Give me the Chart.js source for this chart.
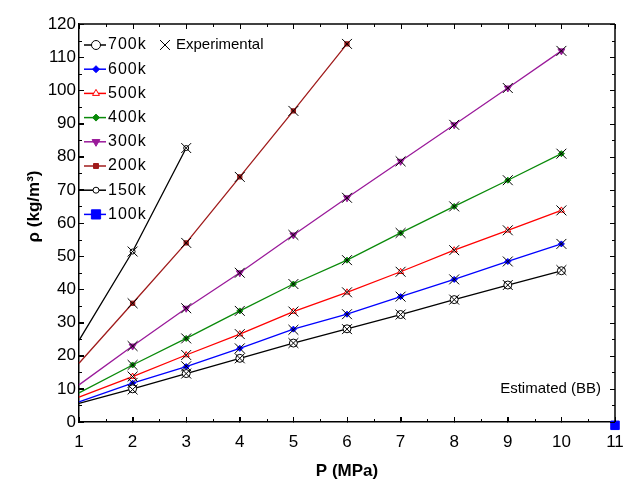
<!DOCTYPE html>
<html>
<head>
<meta charset="utf-8">
<title>Density vs pressure</title>
<script src="https://cdn.jsdelivr.net/npm/chart.js@4/dist/chart.umd.min.js"></script>
<style>
  html, body { margin: 0; padding: 0; background: #fff; }
  canvas { position: absolute; left: 0; top: 0; }
  #frame { pointer-events: none; }
</style>
</head>
<body>
<canvas id="densityChart" width="623" height="480"></canvas>
<canvas id="frame" width="623" height="480"></canvas>
<script>
// Valores
var xMin = 1, xMax = 11, yMin = 0, yMax = 120;
var xLabelStep = 1, yLabelStep = 10;

var pressure = [1, 2, 3, 4, 5, 6, 7, 8, 9, 10];
var temperatures = ['700k', '600k', '500k', '400k', '300k', '200k', '150k', '100k'];

// Estimated (BB), desde P = 1
var est700 = [5.6, 10.0, 14.6, 19.2, 23.8, 28.1, 32.4, 36.9, 41.3, 45.6];
var est600 = [6.1, 11.7, 16.7, 22.2, 28.0, 32.5, 37.8, 43.0, 48.4, 53.7];
var est500 = [7.5, 13.7, 20.2, 26.5, 33.3, 39.1, 45.3, 51.8, 57.8, 63.8];
var est400 = [8.8, 17.2, 25.2, 33.5, 41.6, 48.8, 57.0, 65.0, 72.9, 80.9];
var est300 = [11.2, 22.9, 34.3, 45.0, 56.4, 67.6, 78.6, 89.6, 100.7, 111.9];
var est200 = [17.7, 35.8, 54.0, 73.9, 93.8, 114.0];
var est150 = [24.6, 51.4, 82.6];
var p100 = [11];
var est100 = [-1];

// Experimental, desde P = 2
var exp700 = [9.8, 14.6, 19.2, 23.8, 28.0, 32.4, 36.9, 41.3, 45.8];
var exp600 = [11.8, 16.8, 22.2, 27.8, 32.5, 37.8, 43.0, 48.4, 53.7];
var exp500 = [13.7, 20.2, 26.5, 33.3, 39.1, 45.3, 51.8, 57.8, 63.8];
var exp400 = [17.2, 25.2, 33.5, 41.6, 48.8, 57.0, 65.0, 72.9, 80.9];
var exp300 = [22.9, 34.3, 45.0, 56.4, 67.6, 78.6, 89.6, 100.7, 111.9];
var exp200 = [35.8, 54.0, 73.9, 93.8, 114.0];
var exp150 = [51.4, 82.6];

var FONT = '"Liberation Sans", Arial, sans-serif';
Chart.defaults.font.family = FONT;
Chart.defaults.color = '#000';

function toPoints(xs, ys) {
    return ys.map(function(v, i) { return { x: xs[i], y: v }; });
}

// Estilo de cada curva
var curveStyle = {
    '700k': { color: '#000000', shape: 'circle', r: 4, fill: '#ffffff' },
    '600k': { color: '#0000ff', shape: 'rectRot', r: 3, fill: '#0000ff' },
    '500k': { color: '#ff0000', shape: 'triangle', r: 3.5, fill: '#ffffff' },
    '400k': { color: '#0a8a0a', shape: 'rectRot', r: 3, fill: '#0a8a0a' },
    '300k': { color: '#9a1a9a', shape: 'triangle', r: 4, fill: '#9a1a9a', rot: 180 },
    '200k': { color: '#a01c1c', shape: 'rect', r: 3, fill: '#a01c1c' },
    '150k': { color: '#000000', shape: 'circle', r: 2.5, fill: '#ffffff' },
    '100k': { color: '#0000ff', shape: 'rect', r: 6, fill: '#0000ff' }
};

var estimated = {
    '700k': toPoints(pressure, est700),
    '600k': toPoints(pressure, est600),
    '500k': toPoints(pressure, est500),
    '400k': toPoints(pressure, est400),
    '300k': toPoints(pressure, est300),
    '200k': toPoints(pressure, est200),
    '150k': toPoints(pressure, est150),
    '100k': toPoints(p100, est100)
};
var expPressure = pressure.slice(1);
var experimental = [exp700, exp600, exp500, exp400, exp300, exp200, exp150];

var datasets = [];
temperatures.forEach(function(t) {
    var s = curveStyle[t];
    var pts = estimated[t];
    datasets.push({
        label: t,
        data: pts,
        borderColor: s.color,
        backgroundColor: s.fill,
        borderWidth: 1.3,
        pointStyle: s.shape,
        pointRotation: s.rot || 0,
        // sin marcador en P = 1
        pointRadius: pts.map(function(p, i) { return (i === 0 && pts.length > 1) ? 0 : s.r; }),
        pointBorderColor: s.color,
        pointBackgroundColor: s.fill,
        pointBorderWidth: 1,
        showLine: pts.length > 1,
        tension: 0,
        clip: t === '100k' ? false : 2,
        order: 2
    });
});
experimental.forEach(function(vals) {
    datasets.push({
        label: 'Experimental',
        data: toPoints(expPressure, vals),
        showLine: false,
        pointStyle: 'crossRot',
        pointRadius: 7,
        pointBorderColor: '#000',
        pointBorderWidth: 1,
        order: 1
    });
});

// Leyenda y nota dentro del area del grafico
var insideText = {
    id: 'insideText',
    afterDraw: function(chart) {
        var ctx = chart.ctx;
        var area = chart.chartArea;
        var h = Chart.helpers;
        ctx.save();
        ctx.textBaseline = 'middle';
        ctx.textAlign = 'left';
        temperatures.forEach(function(t, i) {
            var s = curveStyle[t];
            var y = area.top + 21 + i * 24.2;
            ctx.strokeStyle = s.color;
            ctx.lineWidth = 1.5;
            ctx.beginPath();
            ctx.moveTo(area.left + 5, y);
            ctx.lineTo(area.left + 27, y);
            ctx.stroke();
            ctx.fillStyle = s.fill;
            ctx.lineWidth = 1;
            if (h && h.drawPoint) {
                h.drawPoint(ctx, { pointStyle: s.shape, rotation: s.rot || 0, radius: s.r + 0.5, borderWidth: 1 }, area.left + 17, y);
            }
            ctx.fillStyle = '#000';
            ctx.font = '16px ' + FONT;
            ctx.letterSpacing = '1px';
            ctx.fillText(t, area.left + 29, y);
            ctx.letterSpacing = '0px';
        });
        var ey = area.top + 21;
        ctx.strokeStyle = '#000';
        ctx.lineWidth = 1;
        if (h && h.drawPoint) {
            h.drawPoint(ctx, { pointStyle: 'crossRot', rotation: 0, radius: 7, borderWidth: 1 }, area.left + 86, ey);
        }
        ctx.fillStyle = '#000';
        ctx.font = '15px ' + FONT;
        ctx.fillText('Experimental', area.left + 97, ey);
        ctx.textAlign = 'right';
        ctx.fillText('Estimated (BB)', area.right - 14, area.bottom - 33);
        ctx.restore();
    }
};

function mainAxis(position, min, max, step, size, ticks, title) {
    return {
        type: 'linear',
        position: position,
        min: min,
        max: max,
        ticks: Object.assign({ stepSize: step, autoSkip: false, maxRotation: 0, color: '#000', font: { size: 17 } }, ticks),
        grid: { drawOnChartArea: false, drawTicks: true, tickLength: -5, tickColor: '#000' },
        border: { display: true, color: '#000', width: 1.5 },
        title: title,
        afterFit: function(scale) {
            if (scale.isHorizontal()) scale.height = size;
            else scale.width = size;
            scale.paddingLeft = 0;
            scale.paddingRight = 0;
        }
    };
}

var chart = new Chart(document.getElementById('densityChart'), {
    type: 'line',
    data: { datasets: datasets },
    options: {
        responsive: false,
        animation: false,
        events: [],
        layout: { padding: { top: 24, right: 6, left: 0, bottom: 0 } },
        plugins: { legend: { display: false }, tooltip: { enabled: false } },
        scales: {
            x: mainAxis('bottom', xMin, xMax, xLabelStep, 58, { padding: 15 },
                { display: true, text: 'P (MPa)', font: { size: 17, weight: 'bold', lineHeight: 1 }, padding: { top: 0, bottom: 0 }, color: '#000' }),
            y: mainAxis('left', yMin, yMax, yLabelStep, 79, { padding: 8 },
                { display: true, text: '       ρ (kg/m³)', font: { size: 17, weight: 'bold', lineHeight: 1 }, padding: { top: 26, bottom: 0 }, color: '#000' })
        }
    },
    plugins: [insideText]
});

// Marco y marcas hacia dentro en un lienzo superpuesto, con las posiciones de las escalas
function drawFrame() {
    var cv = document.getElementById('frame');
    var ctx = cv.getContext('2d');
    var a = chart.chartArea;
    var xs = chart.scales.x, ys = chart.scales.y;
    function seg(x1, y1, x2, y2) {
        ctx.beginPath();
        ctx.moveTo(x1, y1);
        ctx.lineTo(x2, y2);
        ctx.stroke();
    }
    ctx.clearRect(0, 0, cv.width, cv.height);
    ctx.strokeStyle = '#000';
    ctx.lineWidth = 1;
    xs.ticks.forEach(function(t, i) {
        var px = Math.round(xs.getPixelForValue(t.value)) + 0.5;
        seg(px, a.bottom, px, a.bottom - 5);
        seg(px, a.top, px, a.top + 5);
        if (i < xs.ticks.length - 1) {
            var mx = Math.round((xs.getPixelForValue(t.value) + xs.getPixelForValue(xs.ticks[i + 1].value)) / 2) + 0.5;
            seg(mx, a.bottom, mx, a.bottom - 3);
            seg(mx, a.top, mx, a.top + 3);
        }
    });
    ys.ticks.forEach(function(t, i) {
        var py = Math.round(ys.getPixelForValue(t.value)) + 0.5;
        seg(a.left, py, a.left + 5, py);
        seg(a.right, py, a.right - 5, py);
        if (i < ys.ticks.length - 1) {
            var my = Math.round((ys.getPixelForValue(t.value) + ys.getPixelForValue(ys.ticks[i + 1].value)) / 2) + 0.5;
            seg(a.left, my, a.left + 3, my);
            seg(a.right, my, a.right - 3, my);
        }
    });
    ctx.lineWidth = 1.5;
    seg(a.left, a.top, a.right, a.top);
    seg(a.right, a.top, a.right, a.bottom);
}
drawFrame();
</script>
</body>
</html>
